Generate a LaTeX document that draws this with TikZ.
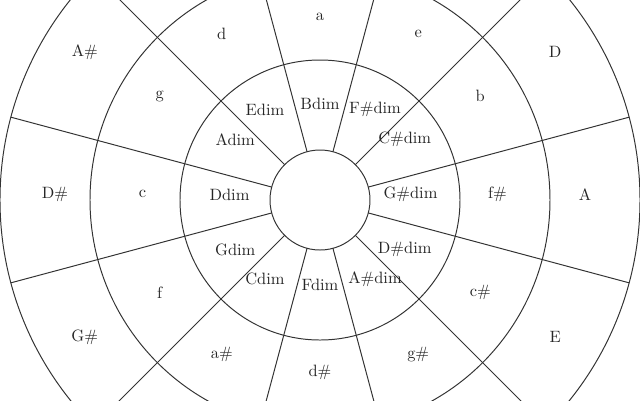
\documentclass[tikz,border=0pt]{standalone}
\usepackage{tikz}

\begin{document}
\begin{tikzpicture}[
    x=2.14cm, y=2.14cm,
    ring/.style={draw=black!80, line width=0.6pt},
    spoke/.style={draw=black!80, line width=0.6pt},
    chord/.style={text=black!85, inner sep=0pt, yshift=1.2mm}
]
    \useasboundingbox (-3.2,-2) rectangle (3.2,2);
    \clip (-3.2,-2) rectangle (3.2,2);
    \coordinate (hub) at (0,0);

    % rings and spokes
    \foreach \r in {0.5,1.4,2.3,3.2}
        \draw[ring] (hub) circle[radius=\r];
    \foreach \a in {15,45,...,345}
        \draw[spoke] (\a:0.5) -- (\a:3.2);

    % diminished chords
    \node[chord] (bdim)  at (90:0.905)  {Bdim};
    \node[chord] (fsdim) at (57:1.01)   {F\#dim};
    \node[chord] (csdim) at (33:1.01)   {C\#dim};
    \node[chord] (gsdim) at (0:0.905)   {G\#dim};
    \node[chord] (dsdim) at (-33:1.01)  {D\#dim};
    \node[chord] (asdim) at (-57:1.01)  {A\#dim};
    \node[chord] (fdim)  at (-90:0.905) {Fdim};
    \node[chord] (cdim)  at (-123:1.01) {Cdim};
    \node[chord] (gdim)  at (-147:1.01) {Gdim};
    \node[chord] (ddim)  at (180:0.905) {Ddim};
    \node[chord] (adim)  at (147:1.01)  {Adim};
    \node[chord] (edim)  at (123:1.01)  {Edim};

    % minor keys
    \node[chord] (amin)  at (90:1.775)   {a};
    \node[chord] (emin)  at (58.5:1.88)  {e};
    \node[chord] (bmin)  at (31.5:1.88)  {b};
    \node[chord] (fsmin) at (0:1.775)    {f\#};
    \node[chord] (csmin) at (-31.5:1.88) {c\#};
    \node[chord] (gsmin) at (-58.5:1.88) {g\#};
    \node[chord] (dsmin) at (-90:1.775)  {d\#};
    \node[chord] (asmin) at (-121.5:1.88) {a\#};
    \node[chord] (fmin)  at (-148.5:1.88) {f};
    \node[chord] (cmin)  at (180:1.775)  {c};
    \node[chord] (gmin)  at (148.5:1.88) {g};
    \node[chord] (dmin)  at (121.5:1.88) {d};

    % major keys
    \node[chord] (dmaj)  at (31.2:2.75)   {D};
    \node[chord] (amaj)  at (0:2.65)      {A};
    \node[chord] (emaj)  at (-31.2:2.75)  {E};
    \node[chord] (gsmaj) at (-148.8:2.75) {G\#};
    \node[chord] (dsmaj) at (180:2.65)    {D\#};
    \node[chord] (asmaj) at (148.8:2.75)  {A\#};
\end{tikzpicture}
\end{document}
